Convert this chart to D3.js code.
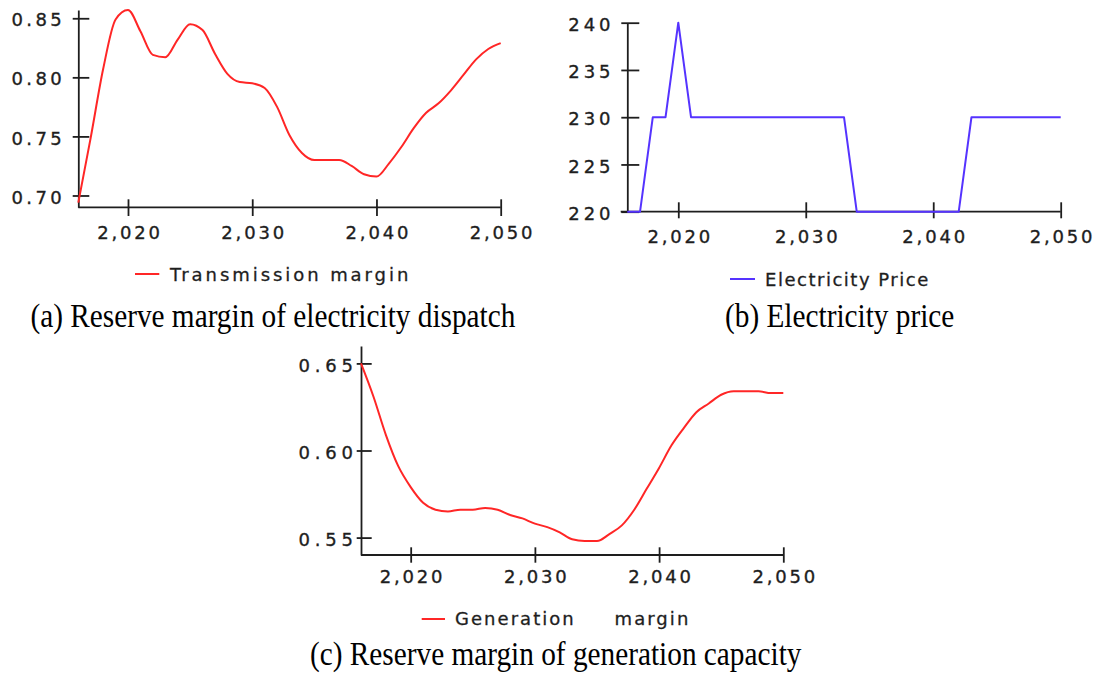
<!DOCTYPE html>
<html>
<head>
<meta charset="utf-8">
<script src="https://cdn.jsdelivr.net/npm/d3@7"></script>
<style>
  html, body { margin: 0; padding: 0; background: #fff; }
  svg { display: block; }
</style>
</head>
<body>
<svg id="chart" width="1099" height="675"></svg>
<script>
// ---------------- DATA ----------------
const years = [2016, 2017, 2018, 2019, 2020, 2021, 2022, 2023, 2024, 2025,
               2026, 2027, 2028, 2029, 2030, 2031, 2032, 2033, 2034, 2035,
               2036, 2037, 2038, 2039, 2040, 2041, 2042, 2043, 2044, 2045,
               2046, 2047, 2048, 2049, 2050];

const transmissionMargin = [0.694, 0.749, 0.807, 0.849, 0.857, 0.839, 0.819, 0.817, 0.832, 0.845,
                            0.840, 0.820, 0.803, 0.796, 0.795, 0.791, 0.775, 0.751, 0.736, 0.730,
                            0.730, 0.730, 0.725, 0.718, 0.716, 0.727, 0.741, 0.757, 0.770, 0.778,
                            0.789, 0.802, 0.815, 0.824, 0.829];

const electricityPrice = [220, 220, 230, 230, 240, 230, 230, 230, 230, 230,
                          230, 230, 230, 230, 230, 230, 230, 230, 220, 220,
                          220, 220, 220, 220, 220, 220, 220, 230, 230, 230,
                          230, 230, 230, 230, 230];

const generationMargin = [0.650, 0.631, 0.609, 0.591, 0.579, 0.570, 0.566, 0.565, 0.566, 0.566,
                          0.567, 0.566, 0.563, 0.561, 0.558, 0.556, 0.553, 0.549, 0.548, 0.548,
                          0.552, 0.557, 0.566, 0.578, 0.590, 0.603, 0.613, 0.622, 0.627, 0.632,
                          0.634, 0.634, 0.634, 0.633, 0.633];

const xTickValues = [2020, 2030, 2040, 2050];
const yTicksA = [0.70, 0.75, 0.80, 0.85];
const yTicksB = [220, 225, 230, 235, 240];
const yTicksC = [0.55, 0.60, 0.65];

const legendA = "Transmission margin";
const legendB = "Electricity Price";
const legendC = "Generation     margin";

const captionA = "(a) Reserve margin of electricity dispatch";
const captionB = "(b) Electricity price";
const captionC = "(c) Reserve margin of generation capacity";

// ---------------- LAYOUT ----------------
const svg = d3.select("#chart");
svg.append("rect").attr("width", 1099).attr("height", 675).attr("fill", "#fff");

const TICK_FONT = "'DejaVu Sans', Verdana, sans-serif";
const TICK_SIZE = 18;
const X_LS = 2.8;
const AXIS_COLOR = "#1e1e1e";
const TEXT_COLOR = "#1e1e1e";

const panels = [
  { values: transmissionMargin, yDomain: [0.69, 0.857], yTicks: yTicksA, yFmt: d3.format(".2f"),
    x0: 78.3, x1: 500.7, yTop: 10, yBot: 207.3, xAxisStart: 78.3, yLs: 3.4,
    yLabelRight: 61.7, xLabelBaseline: 238.8, yTickIn: 11, yTickOut: 5.6, xTickIn: 8, xTickOut: 8.7,
    color: "#ff2626", curve: d3.curveMonotoneX,
    legend: legendA, legLine: [135, 159.3, 274], legText: [170, 281, 238.3],
    caption: captionA, capPos: [30.4, 326.7] },
  { values: electricityPrice, yDomain: [220, 240], yTicks: yTicksB, yFmt: d3.format("d"),
    x0: 627.3, x1: 1060.7, yTop: 22.7, yBot: 211.7, xAxisStart: 620.7, yLs: 3.9,
    yLabelRight: 610.5, xLabelBaseline: 243, yTickIn: 12, yTickOut: 6, xTickIn: 9.4, xTickOut: 6.6,
    color: "#5533ff", curve: d3.curveLinear,
    legend: legendB, legLine: [730, 755, 279], legText: [765, 285.7, 163.3],
    caption: captionB, capPos: [725, 326.7] },
  { values: generationMargin, yDomain: [0.54, 0.66], yTicks: yTicksC, yFmt: d3.format(".2f"),
    x0: 361, x1: 783.3, yTop: 346, yBot: 555, xAxisStart: 361, yLs: 4.8,
    yLabelRight: 353, xLabelBaseline: 583, yTickIn: 10.7, yTickOut: 4.3, xTickIn: 7.7, xTickOut: 7.7,
    color: "#ff2626", curve: d3.curveMonotoneX,
    legend: legendC, legLine: [421.7, 445, 619], legText: [455, 625, 233.3],
    caption: captionC, capPos: [310, 665] }
];

function styleTickText(sel, ls) {
  sel.attr("fill", TEXT_COLOR).attr("stroke", TEXT_COLOR).attr("stroke-width", 0.35)
    .attr("font-family", TICK_FONT).attr("font-size", TICK_SIZE)
    .style("letter-spacing", ls + "px");
}

panels.forEach(p => {
  const x = d3.scaleLinear().domain([years[0], years[years.length - 1]]).range([p.x0, p.x1]);
  const y = d3.scaleLinear().domain(p.yDomain).range([p.yBot, p.yTop]);

  // X axis
  const gx = svg.append("g").attr("transform", `translate(0,${p.yBot})`)
    .call(d3.axisBottom(x).tickValues(xTickValues).tickFormat(d3.format(","))
      .tickSizeOuter(0).tickSizeInner(0));
  gx.select(".domain").attr("d", `M${p.xAxisStart},0H${p.x1}`)
    .attr("stroke", AXIS_COLOR).attr("stroke-width", 1.8);
  gx.selectAll(".tick line").attr("y1", -p.xTickIn).attr("y2", p.xTickOut)
    .attr("stroke", AXIS_COLOR).attr("stroke-width", 1.8);
  gx.selectAll(".tick text")
    .attr("y", p.xLabelBaseline - p.yBot).attr("dy", null)
    .attr("dx", X_LS / 2)
    .call(styleTickText, X_LS);

  // Y axis
  const gy = svg.append("g").attr("transform", `translate(${p.x0},0)`)
    .call(d3.axisLeft(y).tickValues(p.yTicks).tickFormat(p.yFmt)
      .tickSizeOuter(0).tickSizeInner(0));
  gy.select(".domain").attr("stroke", AXIS_COLOR).attr("stroke-width", 1.8);
  gy.selectAll(".tick line").attr("x1", -p.yTickOut).attr("x2", p.yTickIn)
    .attr("stroke", AXIS_COLOR).attr("stroke-width", 1.8);
  gy.selectAll(".tick text")
    .attr("x", p.yLabelRight - p.x0 + p.yLs).attr("dy", null).attr("y", 7.6)
    .call(styleTickText, p.yLs);

  // Data line
  const line = d3.line().x((d, i) => x(years[i])).y(d => y(d)).curve(p.curve);
  svg.append("path").datum(p.values)
    .attr("d", line).attr("fill", "none")
    .attr("stroke", p.color).attr("stroke-width", 2)
    .attr("stroke-linejoin", "round");

  // Legend
  svg.append("line")
    .attr("x1", p.legLine[0]).attr("x2", p.legLine[1])
    .attr("y1", p.legLine[2]).attr("y2", p.legLine[2])
    .attr("stroke", p.color).attr("stroke-width", 2);
  svg.append("text")
    .attr("x", p.legText[0]).attr("y", p.legText[1])
    .attr("textLength", p.legText[2]).attr("lengthAdjust", "spacing")
    .attr("xml:space", "preserve").style("white-space", "pre")
    .attr("font-family", TICK_FONT).attr("font-size", 18)
    .attr("fill", TEXT_COLOR).attr("stroke", TEXT_COLOR).attr("stroke-width", 0.3)
    .text(p.legend);

  // Caption
  svg.append("text")
    .attr("transform", `translate(${p.capPos[0]},${p.capPos[1]}) scale(1,1.12)`)
    .attr("font-family", "'Liberation Serif', 'Times New Roman', serif")
    .attr("font-size", 29.3).attr("fill", "#000")
    .text(p.caption);
});
</script>
</body>
</html>
